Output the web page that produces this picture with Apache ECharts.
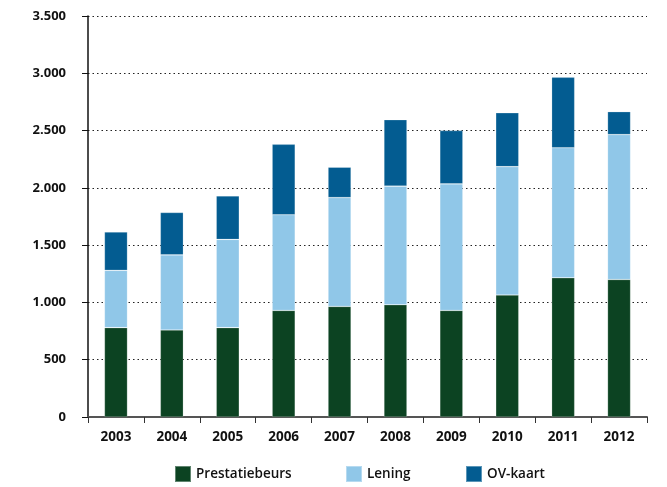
<!DOCTYPE html>
<html>
<head>
<meta charset="utf-8">
<script src="https://cdn.jsdelivr.net/npm/echarts@6/dist/echarts.min.js"></script>
<style>html,body{margin:0;padding:0;background:#fff}#c{width:667px;height:487px}</style>
</head>
<body>
<div id="c"></div>
<script>
const years = ['2003','2004','2005','2006','2007','2008','2009','2010','2011','2012'];
const prestatiebeurs = [780, 760, 780, 930, 965, 980, 930, 1065, 1215, 1200];
const lening = [500, 655, 770, 835, 950, 1035, 1105, 1120, 1135, 1265];
const ovKaart = [335, 370, 380, 615, 265, 580, 465, 470, 615, 200];
const yTicks = [0, 500, 1000, 1500, 2000, 2500, 3000, 3500];

const font = '"Open Sans", "Noto Sans", sans-serif';
const chart = echarts.init(document.getElementById('c'));
function fmt(v){ return String(v).replace(/\B(?=(\d{3})+(?!\d))/g, '.'); }
const seriesDef = [
  ['Prestatiebeurs', prestatiebeurs, '#0c4322', 174],
  ['Lening', lening, '#90c7e8', 345],
  ['OV-kaart', ovKaart, '#035c91', 465]
];
chart.setOption({
  animation: false,
  grid: { left: 88, right: 20, top: 16, bottom: 70 },
  legend: seriesDef.map(s => ({
    left: s[3], top: 465, padding: 0, icon: 'rect', itemWidth: 16, itemHeight: 16,
    textStyle: { fontFamily: font, fontSize: 13.5, fontWeight: 600, color: '#111' },
    data: [s[0]]
  })),
  xAxis: {
    type: 'category', data: years,
    axisLine: { lineStyle: { color: '#555', width: 2 } },
    axisTick: { show: true, length: 6, lineStyle: { color: '#333', width: 1 } },
    axisLabel: { fontFamily: font, fontSize: 13.5, fontWeight: 'bold', color: '#111', margin: 13 }
  },
  yAxis: {
    type: 'value', min: yTicks[0], max: yTicks[yTicks.length-1], interval: 500,
    axisLine: { show: true, lineStyle: { color: '#111', width: 1.5 } },
    axisTick: { show: true, length: 6, lineStyle: { color: '#111' } },
    splitLine: { lineStyle: { color: '#222', type: [1.5, 3], width: 1 } },
    axisLabel: { fontFamily: font, fontSize: 13, fontWeight: 'bold', color: '#111', margin: 22, formatter: fmt }
  },
  series: seriesDef.map(s => ({
    name: s[0], type: 'bar', stack: 'total', data: s[1], barWidth: 23,
    itemStyle: { color: s[2], borderColor: 'rgba(255,255,255,0.35)', borderWidth: 0.6 }
  }))
});
</script>
</body>
</html>
